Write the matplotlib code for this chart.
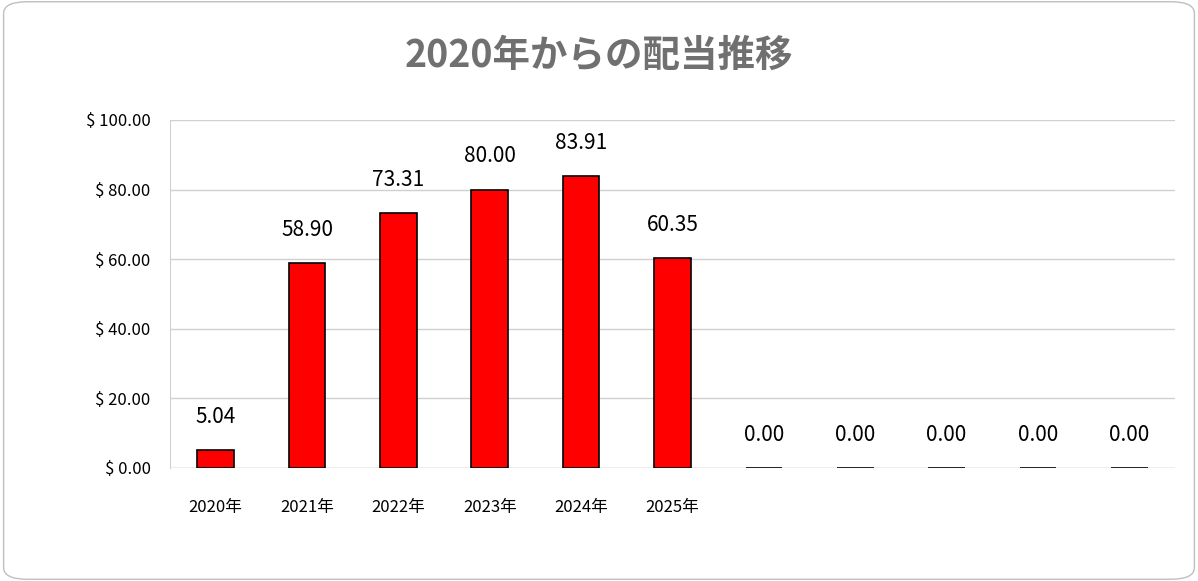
import matplotlib.pyplot as plt
from matplotlib.patches import FancyBboxPatch

plt.rcParams['font.family'] = ['Noto Sans CJK JP', 'DejaVu Sans']

years = ['2020年', '2021年', '2022年', '2023年', '2024年', '2025年', '', '', '', '', '']
dividends = [5.04, 58.90, 73.31, 80.00, 83.91, 60.35, 0, 0, 0, 0, 0]
yticks = [0, 20, 40, 60, 80, 100]

fig = plt.figure(figsize=(11.98, 5.81), dpi=100)
fig.patch.set_alpha(0)
border = FancyBboxPatch((0.003, 0.003), 0.994, 0.994, boxstyle='round,pad=0,rounding_size=0.02',
                        transform=fig.transFigure, facecolor='white', edgecolor='#bfbfbf', lw=1, zorder=-10)
fig.patches.append(border)
ax = fig.add_axes([170/1198, 1 - 468/581, 1005/1198, 348/581])
x = range(len(years))
ax.bar(x, dividends, width=0.4, color='#ff0000', edgecolor='black', lw=1.2, zorder=3)
for i, v in zip(x, dividends):
    ax.annotate(f'{v:.2f}', (i, v), xytext=(0, 16), textcoords='offset points',
                ha='center', va='bottom', fontsize=15)
ax.set_xlim(-0.5, len(years) - 0.5)
ax.set_ylim(0, 100)
ax.set_yticks(yticks)
ax.set_yticklabels([f'$ {t:.2f}' for t in yticks], fontsize=12)
ax.set_xticks(list(x))
ax.set_xticklabels(years, fontsize=12)
ax.tick_params(length=0, pad=14)
ax.tick_params(axis='x', pad=22)
ax.grid(axis='y', color='#d0d0d0', lw=1, zorder=0)
for s in ['top', 'right', 'bottom']:
    ax.spines[s].set_visible(False)
ax.spines['left'].set_color('#d0d0d0')
ax.axhline(0, color='#d0d0d0', lw=1, zorder=2)
ax.patch.set_alpha(0)
fig.text(0.5, 1 - 55/581, '2020年からの配当推移', ha='center', va='center',
         fontsize=27, fontweight='bold', color='#707070')
fig.savefig('out.png', dpi=100, facecolor='white')
